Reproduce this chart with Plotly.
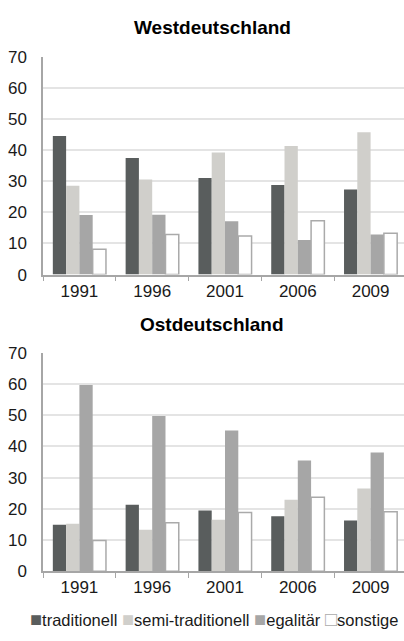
import plotly.graph_objects as go

years = ["1991", "1996", "2001", "2006", "2009"]
series_names = ["traditionell", "semi-traditionell", "egalitär", "sonstige"]

west_traditionell = [44.5, 37.4, 31.0, 28.8, 27.3]
west_semi = [28.5, 30.5, 39.2, 41.3, 45.7]
west_egalitaer = [19.1, 19.2, 17.1, 11.1, 12.9]
west_sonstige = [8.1, 12.9, 12.4, 17.3, 13.3]

ost_traditionell = [14.9, 21.3, 19.4, 17.6, 16.2]
ost_semi = [15.2, 13.3, 16.5, 22.9, 26.5]
ost_egalitaer = [59.7, 49.7, 45.1, 35.5, 38.0]
ost_sonstige = [9.8, 15.5, 18.8, 23.7, 19.0]

fills = ["#595d5d", "#d0cfcb", "#a6a6a6", "#ffffff"]
outlines = ["#595d5d", "#d0cfcb", "#a6a6a6", "#aaaaaa"]

W, H = 404, 641
FONT = "Liberation Sans, Arial, sans-serif"

fig = go.Figure()

panels = [
    ("x", "y", [west_traditionell, west_semi, west_egalitaer, west_sonstige]),
    ("x2", "y2", [ost_traditionell, ost_semi, ost_egalitaer, ost_sonstige]),
]
for xa, ya, data in panels:
    for i, (name, vals) in enumerate(zip(series_names, data)):
        fig.add_trace(go.Bar(
            x=years, y=vals, name=name, xaxis=xa, yaxis=ya,
            marker=dict(color=fills[i],
                        line=dict(color=outlines[i], width=1.5 if i == 3 else 0)),
            showlegend=False,
        ))

def ydom(top_px, bottom_px):
    return [1 - bottom_px / H, 1 - top_px / H]

x_left = 43 / W
cat_w = 72.8
x_end = (W - 43) / cat_w - 0.5

xcommon = dict(
    type="category", range=[-0.5, x_end], domain=[x_left, 1],
    showline=True, linecolor="#a6a6a6", linewidth=1.5,
    ticks="outside", tickson="boundaries", ticklen=5, tickcolor="#a6a6a6",
    tickwidth=1, showgrid=False, tickfont=dict(family=FONT, size=17, color="#1a1a1a"),
    fixedrange=True,
)
ycommon = dict(
    range=[0, 70], dtick=10, showline=True, linecolor="#a6a6a6", linewidth=1.5,
    ticks="",
    showgrid=True, gridcolor="#e4e4e4", gridwidth=1.5, zeroline=False,
    tickfont=dict(family=FONT, size=17, color="#1a1a1a"),
    ticklabelstandoff=11, fixedrange=True,
)

fig.update_layout(
    width=W, height=H,
    margin=dict(l=0, r=0, t=0, b=0),
    paper_bgcolor="white", plot_bgcolor="white",
    barmode="group", bargap=0.27, bargroupgap=0,
    xaxis=dict(**xcommon, anchor="y"),
    yaxis=dict(**ycommon, domain=ydom(49, 273.7), anchor="x"),
    xaxis2=dict(**xcommon, anchor="y2"),
    yaxis2=dict(**ycommon, domain=ydom(354.3, 579.3), anchor="x2"),
    font=dict(family=FONT),
)

fig.add_annotation(text="<b>Westdeutschland</b>", x=212 / W, y=1 - 19.5 / H,
                   xref="paper", yref="paper", xanchor="center", yanchor="middle",
                   showarrow=False, font=dict(family=FONT, size=19, color="#000"))
fig.add_annotation(text="<b>Ostdeutschland</b>", x=212 / W, y=1 - 325 / H,
                   xref="paper", yref="paper", xanchor="center", yanchor="middle",
                   showarrow=False, font=dict(family=FONT, size=19, color="#000"))

legend_parts = []
symbols = ["■", "■", "■", "□"]
sym_colors = ["#595d5d", "#d0cfcb", "#a6a6a6", "#aaaaaa"]
for s, c, n in zip(symbols, sym_colors, series_names):
    legend_parts.append(f"<span style='color:{c};font-size:20px'>{s}</span>{n}")
fig.add_annotation(text=" ".join(legend_parts), x=214 / W, y=1 - 629 / H,
                   xref="paper", yref="paper", xanchor="center", yanchor="middle",
                   showarrow=False, font=dict(family=FONT, size=16.5, color="#1a1a1a"))

post = ("document.body.style.margin='0';document.body.style.padding='0';"
        "document.body.style.overflow='hidden';"
        "document.documentElement.style.overflow='hidden';")
fig.write_html("out.html", post_script=post, config={"displayModeBar": False})
